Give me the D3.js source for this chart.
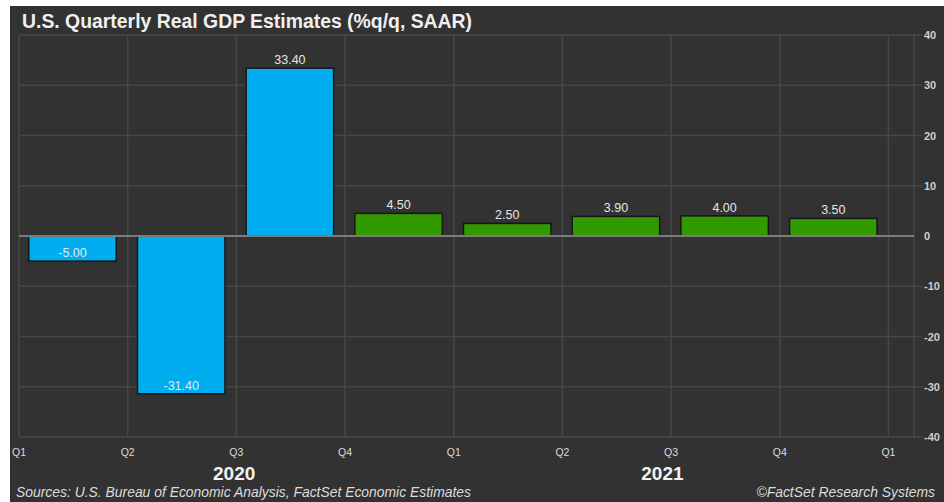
<!DOCTYPE html>
<html>
<head>
<meta charset="utf-8">
<script src="https://cdn.jsdelivr.net/npm/d3@7"></script>
<style>
  body { margin: 0; background: #fff; }
  svg { display: block; font-family: "Liberation Sans", Arial, sans-serif; }
</style>
</head>
<body>
<svg id="chart" width="944" height="502"></svg>
<script>
// quarters as intervals between gridlines (index 0 = Q1 2020)
const quarterLabels = ["Q1", "Q2", "Q3", "Q4", "Q1", "Q2", "Q3", "Q4", "Q1"];
const gdpValues = [-5.00, -31.40, 33.40, 4.50, 2.50, 3.90, 4.00, 3.50];
const isActual = [true, true, true, false, false, false, false, false];
const years = ["2020", "2021"];
const yearPos = [1.98, 5.92]; // in quarter units
const yTicks = [40, 30, 20, 10, 0, -10, -20, -30, -40];

const COLORS = { bg: "#323232", grid: "#474747", zero: "#7c7c7c", actual: "#00aeef", estimate: "#339900", text: "#e6e6e6" };

const svg = d3.select("#chart");

// dark panel
svg.append("rect").attr("x", 10).attr("y", 6).attr("width", 934).attr("height", 496).attr("fill", COLORS.bg);

const x = d3.scaleLinear().domain([0, 8.235]).range([19, 914]);
const y = d3.scaleLinear().domain([-40, 40]).range([437, 35]);

// horizontal grid + right axis
const yAxis = d3.axisRight(y).tickValues(yTicks).tickSize(0).tickPadding(10).tickFormat(d => String(d));
svg.append("g")
    .attr("transform", "translate(914,0)")
    .call(yAxis)
    .call(g => g.select(".domain").remove())
    .call(g => g.selectAll("text").attr("fill", "#cfcfcf").attr("font-size", 11).attr("font-weight", "bold").attr("x", 10));

svg.append("g").selectAll("line")
    .data(yTicks.filter(d => d !== 0))
    .join("line")
    .attr("x1", x(0)).attr("x2", 922)
    .attr("y1", d => y(d)).attr("y2", d => y(d))
    .attr("stroke", COLORS.grid).attr("stroke-width", 1.5);

// vertical grid at quarter boundaries
svg.append("g").selectAll("line")
    .data(quarterLabels)
    .join("line")
    .attr("x1", (d, i) => x(i)).attr("x2", (d, i) => x(i))
    .attr("y1", y(40)).attr("y2", y(-40))
    .attr("stroke", COLORS.grid).attr("stroke-width", 1.5);

svg.append("line")
    .attr("x1", x(8.235)).attr("x2", x(8.235))
    .attr("y1", y(40)).attr("y2", y(-40))
    .attr("stroke", COLORS.grid).attr("stroke-width", 1.5);

// bars
svg.append("g").selectAll("rect")
    .data(gdpValues)
    .join("rect")
    .attr("x", (d, i) => x(i + 0.09))
    .attr("width", (d, i) => x(i + 0.895) - x(i + 0.09))
    .attr("y", d => y(Math.max(0, d)))
    .attr("height", d => Math.abs(y(d) - y(0)))
    .attr("fill", (d, i) => isActual[i] ? COLORS.actual : COLORS.estimate)
    .attr("stroke", "#161616")
    .attr("stroke-width", 1.5);

// zero line
svg.append("line")
    .attr("x1", x(0)).attr("x2", x(8.235))
    .attr("y1", y(0)).attr("y2", y(0))
    .attr("stroke", COLORS.zero).attr("stroke-width", 2);

// value labels
svg.append("g").selectAll("text")
    .data(gdpValues)
    .join("text")
    .attr("x", (d, i) => x(i + 0.4925))
    .attr("y", d => y(d) - 4)
    .attr("text-anchor", "middle")
    .attr("font-size", 12.5)
    .attr("fill", COLORS.text)
    .text(d => d.toFixed(2));

// quarter labels
svg.append("g").selectAll("text")
    .data(quarterLabels)
    .join("text")
    .attr("x", (d, i) => x(i))
    .attr("y", 456)
    .attr("text-anchor", "middle")
    .attr("font-size", 10.5)
    .attr("fill", "#dcdcdc")
    .text(d => d);

// year labels
svg.append("g").selectAll("text")
    .data(years)
    .join("text")
    .attr("x", (d, i) => x(yearPos[i]))
    .attr("y", 480)
    .attr("text-anchor", "middle")
    .attr("font-size", 19)
    .attr("font-weight", "bold")
    .attr("fill", "#f2f2f2")
    .text(d => d);

// title
svg.append("text")
    .attr("x", 22).attr("y", 28)
    .attr("font-size", 19.4).attr("font-weight", "bold")
    .attr("fill", "#f0f0f0")
    .text("U.S. Quarterly Real GDP Estimates (%q/q, SAAR)");

// footer
svg.append("text")
    .attr("x", 16).attr("y", 497)
    .attr("font-size", 13.9).attr("font-style", "italic")
    .attr("fill", "#dcdcdc")
    .text("Sources: U.S. Bureau of Economic Analysis, FactSet Economic Estimates");

svg.append("text")
    .attr("x", 935).attr("y", 497)
    .attr("text-anchor", "end")
    .attr("font-size", 13.9).attr("font-style", "italic")
    .attr("fill", "#dcdcdc")
    .text("©FactSet Research Systems");
</script>
</body>
</html>
